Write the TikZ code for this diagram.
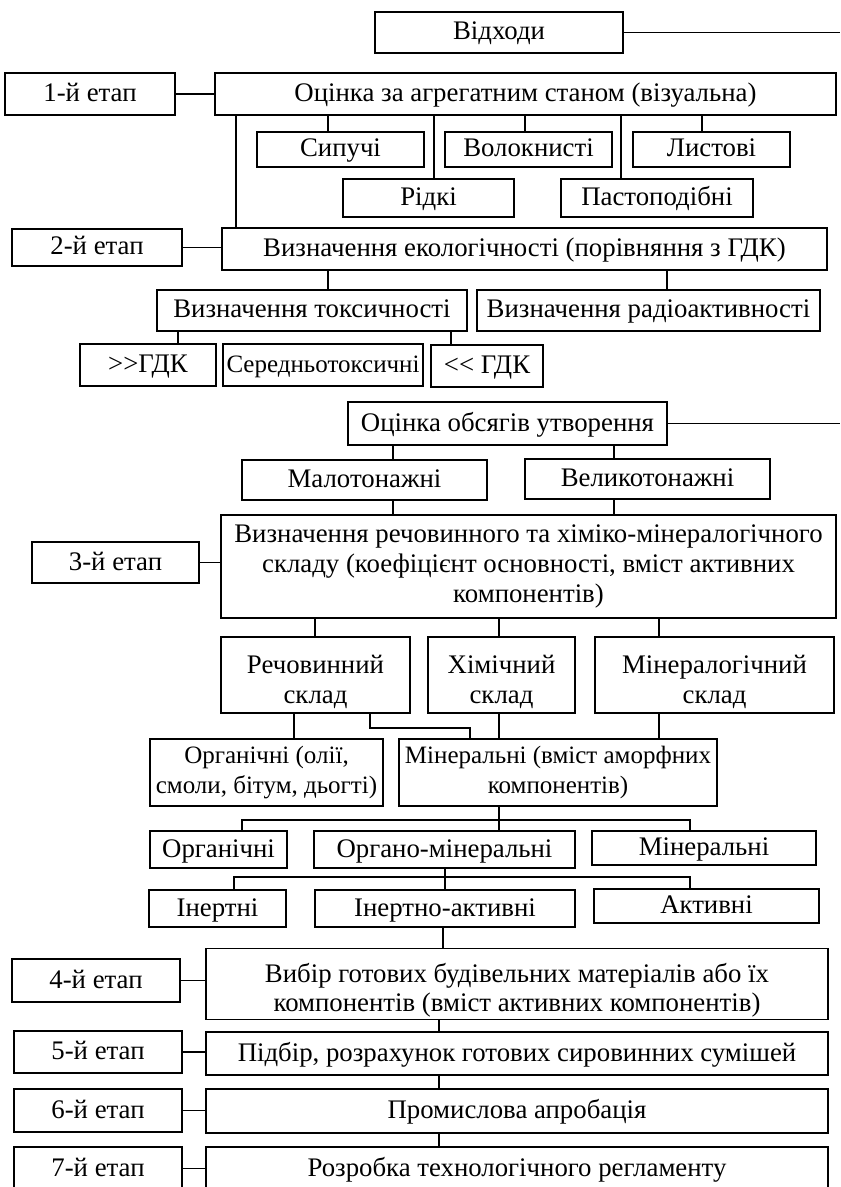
\documentclass[tikz,border=0pt]{standalone}
\usepackage{fontspec}
\setmainfont{Liberation Serif}
\usetikzlibrary{positioning, calc}
\tikzset{
    cell/.style={rectangle, draw, line width=0.7pt, inner xsep=0pt, inner ysep=1pt, align=center,
        fill=white, font=\fontsize{13.4}{14.8}\selectfont},
    box/.style={cell, text height=10.5pt, text depth=3pt},
    small/.style={font=\fontsize{12.5}{14.8}\selectfont},
    sz/.style 2 args={minimum width=#1*0.5pt, minimum height=#2*0.5pt},
    link/.style={line width=0.9pt}
}
\newcommand{\lowr}{\rule{0pt}{16pt}}
\begin{document}
\begin{tikzpicture}[x=0.5pt, y=-0.5pt]
    \path[use as bounding box, clip] (0,0) rectangle (840,1187);
    \fill[white] (0,0) rectangle (840,1187);

    % Top
    \node[box, sz={248}{41}] (vidkhody) at (499,32.5) {Відходи};
    \coordinate (edgeA) at (840,32.5);
    \draw[link] (vidkhody) -- (edgeA);

    % Stage 1
    \node[box, sz={170}{42}] (etap1) at (90,94) {1-й етап};
    \node[box, sz={621}{42}] (agreg) at (525.5,94) {Оцінка за агрегатним станом (візуальна)};
    \node[box, sz={167}{35}] (sypuchi) at (340.5,149.5) {Сипучі};
    \node[box, sz={167}{35}] (volokn) at (528.5,149.5) {Волокнисті};
    \node[box, sz={157}{35}] (lystovi) at (711.5,149.5) {Листові};
    \node[box, sz={171}{38}] (ridki) at (428.5,198) {Рідкі};
    \node[box, sz={192}{38}] (pasto) at (657,198) {Пастоподібні};

    \draw[link] (etap1) -- (agreg);
    \foreach \n/\x in {sypuchi/328, ridki/434, volokn/525, pasto/621, lystovi/702}
        \draw[link] (\x,0 |- agreg.south) -- (\x,0 |- \n.north);

    % Stage 2
    \node[box, sz={170}{37}] (etap2) at (97,247.5) {2-й етап};
    \node[box, sz={605}{42}] (ekol) at (524.5,249) {Визначення екологічності (порівняння з ГДК)};
    \node[box, sz={310}{41}] (toks) at (312,310.5) {Визначення токсичності};
    \node[box, sz={343}{41}] (radio) at (648.5,310.5) {Визначення радіоактивності};
    \node[box, sz={136}{42}] (gdkmore) at (148,365) {>\kern0pt>ГДК};
    \node[box, small, sz={200}{42}] (seredn) at (323,365) {Середньотоксичні};
    \node[box, sz={112}{42}] (gdkless) at (487,366) {<\kern0pt< ГДК};

    \draw[link] (236,0 |- agreg.south) -- (236,0 |- ekol.north);
    \draw[link] (etap2.east) -- (etap2.east -| ekol.west);
    \draw[link] (328,0 |- ekol.south) -- (328,0 |- toks.north);
    \draw[link] (667,0 |- ekol.south) -- (667,0 |- radio.north);
    \draw[link] (178,0 |- toks.south) -- (178,0 |- gdkmore.north);
    \draw[link] (451,0 |- toks.south) -- (451,0 |- gdkless.north);

    % Stage 3
    \node[box, sz={319}{43}] (obsyag) at (507.5,423.5) {Оцінка обсягів утворення};
    \coordinate (edgeB) at (840,423.5);
    \draw[link] (obsyag) -- (edgeB);
    \node[box, sz={245}{40}] (malo) at (364.5,480) {Малотонажні};
    \node[box, sz={245}{40}] (velyko) at (647.5,479) {Великотонажні};
    \node[box, sz={167}{41}] (etap3) at (115.5,562.5) {3-й етап};
    \node[cell, sz={615}{103}] (skladu) at (528.5,566.5)
        {Визначення речовинного та хіміко-мінералогічного\\
         складу (коефіцієнт основності, вміст активних\\
         компонентів)};
    \node[cell, sz={189}{76}] (rechov) at (315.5,675) {\lowr Речовинний\\склад};
    \node[cell, sz={147}{76}] (khim) at (501.5,675) {\lowr Хімічний\\склад};
    \node[cell, sz={239}{76}] (mineral) at (714.5,675) {\lowr Мінералогічний\\склад};
    \node[cell, small, sz={233}{67}] (orgtext) at (266.5,772.5) {Органічні (олії,\\смоли, бітум, дьогті)};
    \node[cell, small, sz={318}{67}] (amorf) at (558,772.5) {Мінеральні (вміст аморфних\\компонентів)};
    \node[box, sz={137}{37}] (org) at (218.5,849.5) {Органічні};
    \node[box, sz={261}{37}] (orgmin) at (444.5,849.5) {Органо-мінеральні};
    \node[box, sz={224}{34}] (miner) at (704,848) {Мінеральні};
    \node[box, sz={137}{37}] (inert) at (217.5,908.5) {Інертні};
    \node[box, sz={260}{37}] (inact) at (445,908.5) {Інертно-активні};
    \node[box, sz={225}{34}] (aktyv) at (706.5,906) {Активні};

    \draw[link] (393,0 |- obsyag.south) -- (393,0 |- malo.north);
    \draw[link] (614,0 |- obsyag.south) -- (614,0 |- velyko.north);
    \draw[link] (393,0 |- malo.south) -- (393,0 |- skladu.north);
    \draw[link] (614,0 |- velyko.south) -- (614,0 |- skladu.north);
    \draw[link] (etap3.east) -- (etap3.east -| skladu.west);
    \foreach \n/\x in {rechov/315, khim/499, mineral/659}
        \draw[link] (\x,0 |- skladu.south) -- (\x,0 |- \n.north);
    \draw[link] (294,0 |- rechov.south) -- (294,0 |- orgtext.north);
    \draw[link] (370,0 |- rechov.south) -- (370,728) -| (470,0 |- amorf.north);
    \draw[link] (499,0 |- khim.south) -- (499,0 |- amorf.north);
    \draw[link] (659,0 |- mineral.south) -- (659,0 |- amorf.north);
    \draw[link] (499,0 |- amorf.south) -- (499,0 |- orgmin.north);
    \draw[link] (242,0 |- org.north) |- (499,820) -| (690,0 |- miner.north);
    \draw[link] (445,0 |- orgmin.south) -- (445,0 |- inact.north);
    \draw[link] (234,0 |- inert.north) |- (445,877) -| (690,0 |- aktyv.north);

    % Stages 4-7
    \node[box, sz={168}{43}] (etap4) at (96,980.5) {4-й етап};
    \node[cell, sz={622}{70}] (vybir) at (517,984)
        {\lowr Вибір готових будівельних матеріалів або їх\\
         компонентів (вміст активних компонентів)};
    \node[box, sz={168}{42}] (etap5) at (98,1052) {5-й етап};
    \node[box, sz={622}{43}] (pidbir) at (517,1053.5) {Підбір, розрахунок готових сировинних сумішей};
    \node[box, sz={168}{43}] (etap6) at (98,1110.5) {6-й етап};
    \node[box, sz={622}{44}] (aprob) at (517,1111) {Промислова апробація};
    \node[box, sz={168}{43}] (etap7) at (98,1168.5) {7-й етап};
    \node[box, sz={622}{43}] (reglam) at (517,1168.5) {Розробка технологічного регламенту};

    \draw[link] (443,0 |- inact.south) -- (443,0 |- vybir.north);
    \draw[link] (439,0 |- vybir.south) -- (439,0 |- pidbir.north);
    \draw[link] (439,0 |- pidbir.south) -- (439,0 |- aprob.north);
    \draw[link] (439,0 |- aprob.south) -- (439,0 |- reglam.north);
    \foreach \a/\b in {etap4/vybir, etap5/pidbir, etap6/aprob, etap7/reglam}
        \draw[link] (\a.east) -- (\a.east -| \b.west);
\end{tikzpicture}
\end{document}
